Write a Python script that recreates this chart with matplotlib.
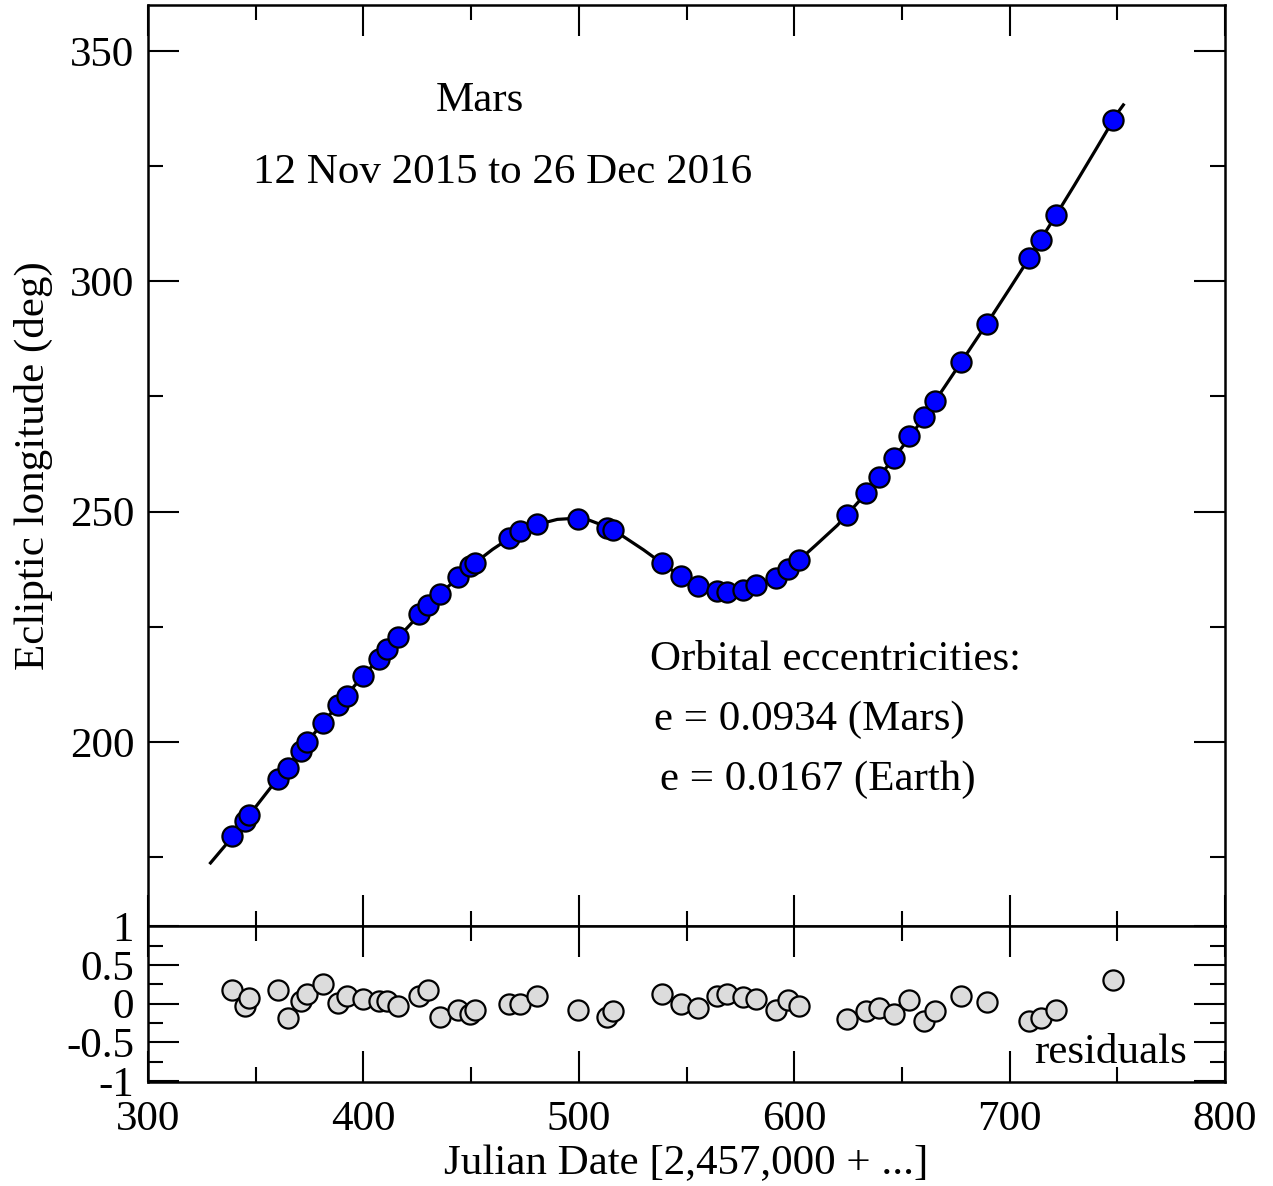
import matplotlib
matplotlib.use("Agg")
import matplotlib.pyplot as plt
from matplotlib.ticker import MultipleLocator, FuncFormatter

plt.rcParams['font.family'] = ['Liberation Serif', 'DejaVu Serif']
plt.rcParams['axes.unicode_minus'] = False

# observation dates (JD - 2,457,000)
jd = [339.1, 345.0, 347.0, 360.2, 365.1, 371.0, 374.0, 381.1, 388.1, 392.2,
      399.9, 407.2, 411.1, 416.2, 425.8, 430.1, 435.6, 443.8, 449.5, 451.8,
      467.7, 472.7, 480.7, 499.8, 512.9, 516.0, 538.5, 547.3, 555.5, 564.0,
      568.9, 576.4, 582.3, 591.6, 597.3, 602.4, 624.4, 633.3, 639.5, 646.3,
      653.4, 660.4, 665.4, 677.4, 689.3, 709.2, 714.4, 721.4, 748.1]

# measured ecliptic longitude (deg)
lon = [179.5, 182.7, 184.2, 191.9, 194.4, 198.1, 199.9, 204.1, 207.9, 210.0,
       214.4, 218.0, 220.1, 222.7, 227.7, 229.7, 232.1, 235.7, 238.2, 238.9,
       244.2, 245.7, 247.3, 248.3, 246.5, 245.9, 238.8, 235.9, 233.9, 232.8,
       232.6, 233.0, 234.1, 235.5, 237.5, 239.5, 249.2, 254.1, 257.6, 261.7,
       266.3, 270.6, 274.0, 282.4, 290.7, 305.1, 308.9, 314.3, 335.0]

# residuals (deg)
resid = [0.17, -0.03, 0.07, 0.17, -0.19, 0.03, 0.12, 0.26, 0.01, 0.10,
         0.06, 0.03, 0.04, -0.03, 0.10, 0.18, -0.17, -0.08, -0.14, -0.08,
         -0.01, 0.00, 0.10, -0.08, -0.17, -0.10, 0.13, 0.00, -0.06, 0.10,
         0.12, 0.09, 0.06, -0.08, 0.05, -0.03, -0.20, -0.10, -0.06, -0.13,
         0.05, -0.22, -0.10, 0.10, 0.02, -0.23, -0.19, -0.08, 0.31]

# fitted model curve
fit_jd = [329, 340, 350, 360, 370, 380, 390, 400, 410, 420, 430, 440, 450,
          460, 470, 480, 490, 497, 505, 510, 520, 530, 540, 550, 560, 565,
          570, 575, 580, 590, 600, 610, 620, 630, 640, 650, 660, 670, 680,
          690, 700, 710, 720, 730, 740, 750, 752.8]
fit_lon = [173.7, 179.8, 185.9, 191.9, 197.6, 203.5, 209.0, 214.4, 219.5,
           224.6, 229.6, 234.0, 238.2, 241.8, 244.9, 247.1, 248.3, 248.5,
           248.1, 247.2, 244.8, 241.7, 238.3, 235.1, 233.3, 232.8, 232.6,
           232.8, 233.5, 235.2, 238.5, 242.7, 247.0, 252.2, 257.9, 263.9,
           270.3, 277.2, 284.2, 291.2, 298.4, 305.7, 313.2, 320.8, 328.6,
           336.5, 338.3]

fig = plt.figure(figsize=(12.73, 11.86), dpi=100)
left, right = 0.1163, 0.9623
ax1 = fig.add_axes([left, 0.2192, right - left, 0.9958 - 0.2192])
ax2 = fig.add_axes([left, 0.0877, right - left, 0.2192 - 0.0877])

ax1.plot(fit_jd, fit_lon, color='black', lw=2.3, zorder=2)
ax1.plot(jd, lon, 'o', ms=14.5, mfc='#0000ff', mec='black', mew=1.6, zorder=3)
ax2.plot(jd, resid, 'o', ms=14.5, mfc='#dcdcdc', mec='black', mew=1.6, zorder=3)

fs = 31
for ax in (ax1, ax2):
    ax.set_xlim(300, 800)
    ax.xaxis.set_major_locator(MultipleLocator(100))
    ax.xaxis.set_minor_locator(MultipleLocator(50))
    ax.tick_params(which='both', direction='in', top=True, right=True,
                   width=1.5, labelsize=fs, pad=10)
    ax.tick_params(which='major', length=22)
    ax.tick_params(which='minor', length=11)
    for s in ax.spines.values():
        s.set_linewidth(1.8)

ax1.set_ylim(160, 360)
ax1.yaxis.set_major_locator(MultipleLocator(50))
ax1.yaxis.set_minor_locator(MultipleLocator(25))
ax1.set_yticks([200, 250, 300, 350])
ax1.tick_params(labelbottom=False)
ax1.set_ylabel('Ecliptic longitude (deg)', fontsize=fs, labelpad=12)

ax2.set_ylim(-1.015, 1.005)
ax2.yaxis.set_major_locator(MultipleLocator(0.5))
ax2.yaxis.set_minor_locator(MultipleLocator(0.25))
ax2.yaxis.set_major_formatter(FuncFormatter(lambda v, p: '%g' % v))
ax2.tick_params(axis='x', pad=13)
ax2.set_xlabel('Julian Date [2,457,000 + ...]', fontsize=fs, labelpad=4)

ax1.text(454, 339.3, 'Mars', fontsize=fs, ha='center', va='center')
ax1.text(464.5, 323.5, '12 Nov 2015 to 26 Dec 2016', fontsize=fs,
         ha='center', va='center')
ax1.text(533, 217.8, 'Orbital eccentricities:', fontsize=fs, va='center')
ax1.text(535, 204.8, 'e = 0.0934 (Mars)', fontsize=fs, va='center')
ax1.text(537.7, 191.8, 'e = 0.0167 (Earth)', fontsize=fs, va='center')
ax2.text(782.5, -0.63, 'residuals', fontsize=fs, ha='right', va='center')

fig.savefig('out.png', dpi=100)
